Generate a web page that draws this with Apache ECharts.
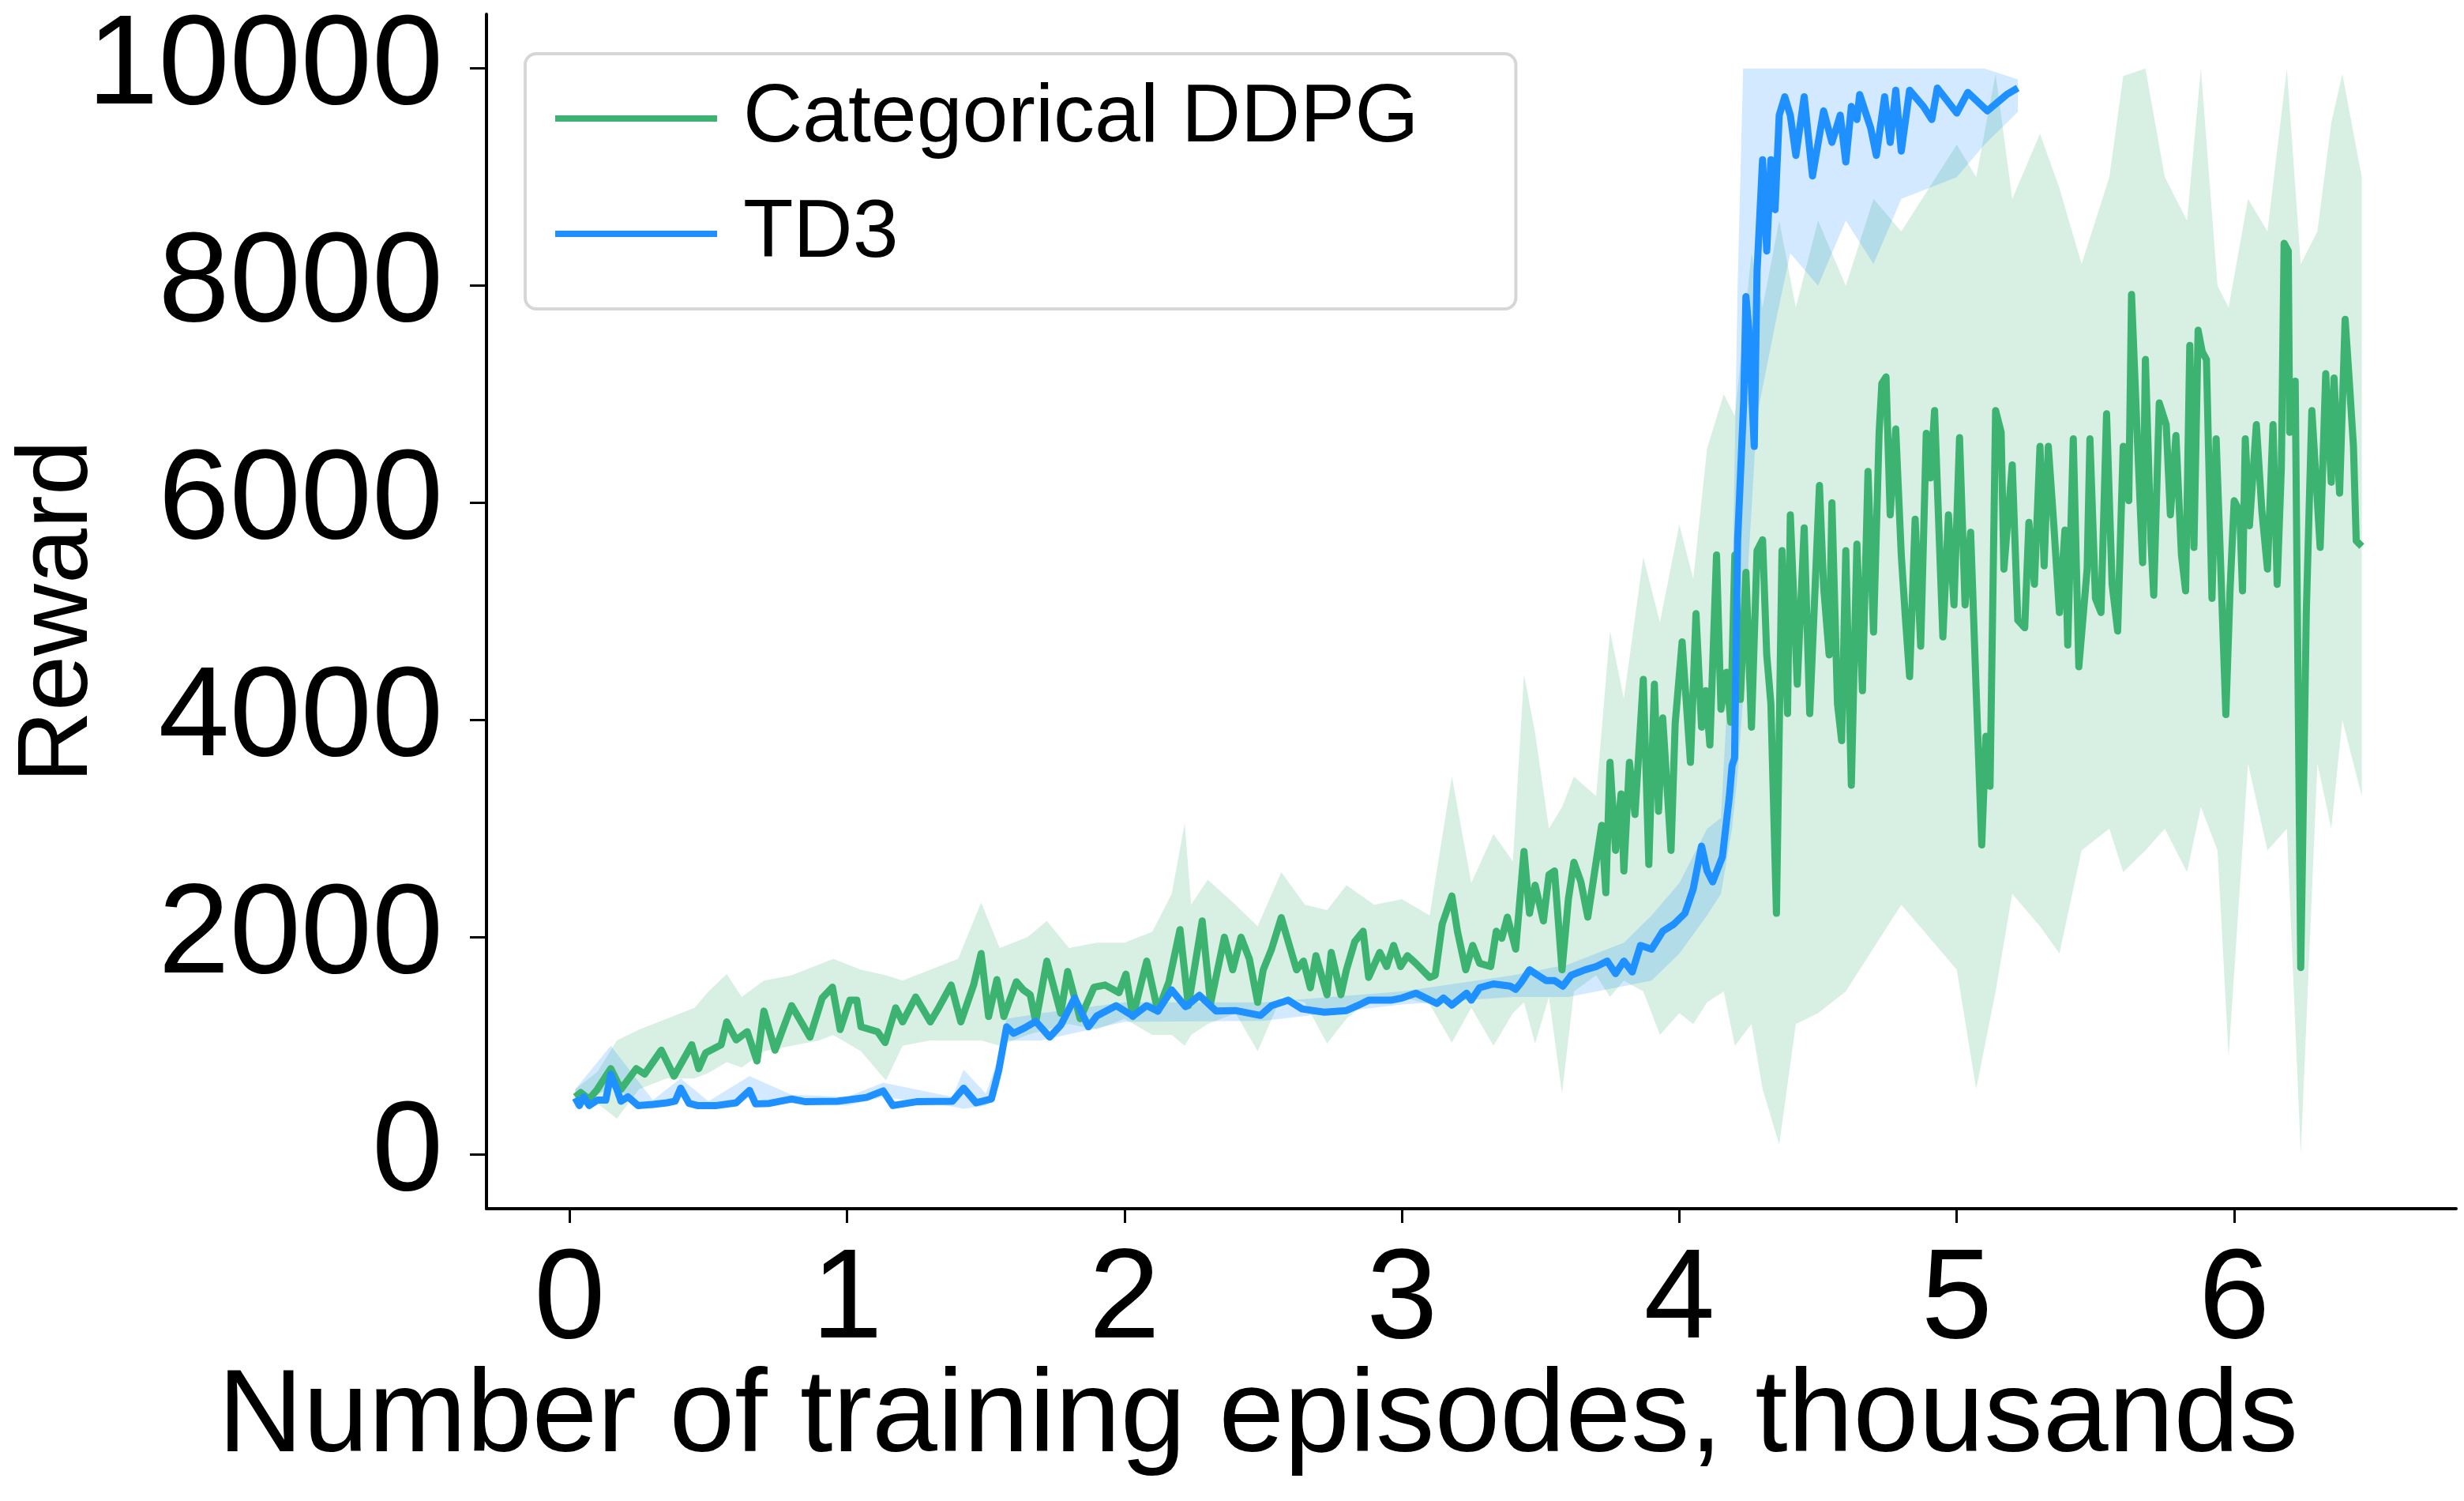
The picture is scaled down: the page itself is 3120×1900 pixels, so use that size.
<!DOCTYPE html>
<html>
<head>
<meta charset="utf-8">
<script src="https://cdn.jsdelivr.net/npm/echarts@6/dist/echarts.min.js"></script>
<style>
  html, body { margin: 0; padding: 0; background: #fff; }
  #chart { width: 3120px; height: 1900px; }
</style>
</head>
<body>
<div id="chart"></div>
<script>
// tick values
var xTicks = [0, 1, 2, 3, 4, 5, 6];
var yTicks = [0, 2000, 4000, 6000, 8000, 10000];

// Categorical DDPG mean reward: [episodes (thousands), reward]
var ddpgMean = [
  [0.02,530],[0.04,570],[0.07,510],[0.1,600],[0.148,790],[0.185,600],[0.24,790],[0.27,740],
  [0.33,960],[0.376,720],[0.44,1010],[0.465,790],[0.49,935],[0.546,1010],[0.566,1220],[0.6,1055],
  [0.64,1130],[0.675,860],[0.70,1320],[0.74,960],[0.80,1370],[0.866,1080],[0.91,1440],[0.947,1540],
  [0.975,1150],[1.01,1420],[1.035,1420],[1.05,1175],[1.11,1130],[1.137,1030],[1.175,1350],[1.2,1220],
  [1.247,1450],[1.30,1220],[1.33,1350],[1.375,1560],[1.41,1220],[1.456,1560],[1.483,1850],[1.51,1270],
  [1.54,1610],[1.565,1270],[1.61,1590],[1.635,1515],[1.66,1470],[1.68,1220],[1.72,1780],[1.77,1300],
  [1.795,1685],[1.84,1250],[1.89,1540],[1.93,1560],[1.98,1490],[2.005,1660],[2.03,1270],[2.08,1780],
  [2.12,1320],[2.16,1590],[2.20,2070],[2.23,1370],[2.28,2150],[2.31,1390],[2.36,2000],[2.39,1700],
  [2.42,2000],[2.45,1800],[2.48,1400],[2.50,1700],[2.53,1890],[2.565,2180],[2.59,1960],[2.62,1700],
  [2.645,1780],[2.67,1535],[2.69,1830],[2.73,1470],[2.745,1860],[2.78,1470],[2.8,1700],[2.83,1960],
  [2.86,2055],[2.88,1630],[2.92,1860],[2.945,1730],[2.97,1925],[2.995,1730],[3.02,1830],[3.05,1760],
  [3.10,1630],[3.12,1650],[3.145,2120],[3.18,2380],[3.20,2055],[3.23,1700],[3.255,1925],[3.28,1760],
  [3.32,1730],[3.34,2055],[3.36,1990],[3.38,2185],[3.41,1890],[3.44,2790],[3.46,2220],[3.48,2480],
  [3.51,2150],[3.53,2575],[3.55,2610],[3.577,1700],[3.60,2350],[3.62,2690],[3.645,2510],[3.67,2185],
  [3.695,2610],[3.72,3030],[3.735,2410],[3.75,3610],[3.77,2800],[3.79,3320],[3.80,2610],[3.82,3610],
  [3.84,3130],[3.87,4375],[3.89,2670],[3.91,4330],[3.925,3160],[3.94,4020],[3.97,2800],[3.985,3970],
  [4.01,4720],[4.04,3610],[4.06,4980],[4.08,3935],[4.095,4270],[4.11,3770],[4.134,5520],[4.15,4100],
  [4.17,4440],[4.185,3980],[4.20,5520],[4.22,4190],[4.24,5360],[4.26,3935],[4.28,5560],[4.30,5660],
  [4.315,4600],[4.33,4150],[4.35,2220],[4.37,5560],[4.39,4060],[4.40,5890],[4.425,4330],[4.45,5770],
  [4.47,4060],[4.505,6160],[4.52,5230],[4.54,4600],[4.55,6000],[4.57,4150],[4.585,3810],[4.60,5560],
  [4.62,3400],[4.64,5620],[4.66,4270],[4.68,6290],[4.70,4810],[4.72,6640],[4.73,7100],[4.745,7160],
  [4.76,5890],[4.78,6680],[4.80,5520],[4.815,4935],[4.83,4400],[4.85,5850],[4.87,4680],[4.89,6640],
  [4.905,6230],[4.92,6850],[4.95,4765],[4.97,5890],[4.99,5060],[5.01,6600],[5.03,5060],[5.05,5730],
  [5.07,4270],[5.09,2850],[5.105,3850],[5.12,3390],[5.14,6850],[5.16,6650],[5.17,5390],[5.20,6350],
  [5.22,4920],[5.245,4850],[5.26,5820],[5.28,5250],[5.30,6520],[5.315,5420],[5.33,6520],[5.35,5790],
  [5.37,4990],[5.39,5750],[5.40,4690],[5.42,6590],[5.44,4490],[5.47,5390],[5.48,6590],[5.50,5120],
  [5.52,4990],[5.54,6820],[5.56,5250],[5.58,4820],[5.60,6520],[5.62,6020],[5.63,7920],[5.65,6650],
  [5.67,5450],[5.68,7320],[5.70,5650],[5.71,5150],[5.73,6920],[5.755,6720],[5.77,5890],[5.79,6620],
  [5.81,5520],[5.825,5190],[5.84,7450],[5.855,5590],[5.87,7590],[5.885,7390],[5.90,7320],[5.92,5120],
  [5.935,6590],[5.95,5520],[5.97,4050],[5.985,5190],[6.00,6020],[6.02,5920],[6.03,5190],[6.04,6590],
  [6.055,5790],[6.08,6720],[6.10,5920],[6.12,5390],[6.14,6720],[6.155,5250],[6.17,6320],[6.18,8390],
  [6.195,8320],[6.20,6650],[6.22,7120],[6.24,1720],[6.26,4990],[6.28,6850],[6.31,5590],[6.33,7190],
  [6.35,6190],[6.36,7150],[6.38,6090],[6.40,7690],[6.415,7120],[6.43,6520],[6.44,5650],[6.46,5600]
];

// Categorical DDPG spread (shaded band)
var ddpgBandX = [0.02,0.1,0.17,0.25,0.35,0.45,0.5,0.566,0.62,0.7,0.8,0.9,0.95,1.05,1.14,1.2,1.3,1.4,
  1.483,1.55,1.65,1.72,1.8,1.9,2.0,2.1,2.17,2.217,2.24,2.3,2.4,2.48,2.565,2.65,2.73,2.8,2.9,3.0,3.1,
  3.18,3.25,3.33,3.4,3.44,3.48,3.53,3.577,3.62,3.7,3.75,3.8,3.87,3.93,4.0,4.05,4.1,4.16,4.2,4.26,4.3,
  4.36,4.42,4.5,4.6,4.7,4.8,4.9,5.0,5.07,5.14,5.2,5.3,5.37,5.45,5.55,5.6,5.68,5.75,5.83,5.88,5.94,
  5.98,6.05,6.12,6.19,6.24,6.3,6.35,6.39,6.46];
var ddpgLow = [450,470,330,600,700,700,750,850,800,950,1000,1050,1100,950,680,1000,1050,1050,
  1050,1000,1100,1150,1200,1150,1250,1100,1100,1000,1100,1200,1300,950,1450,1400,1020,1250,1450,1450,1380,
  1030,1350,1000,1300,1400,1020,1450,560,1500,1650,1450,1600,1500,1100,1300,1200,1400,1500,1000,1200,600,
  90,1200,1300,1500,1900,2300,2000,1700,600,1500,2400,2100,1850,2800,3000,2600,2800,3000,2600,3200,2800,
  900,3600,2800,3000,0,3600,3000,4000,3300];
var ddpgHigh = [600,760,1050,1150,1250,1350,1500,1660,1450,1600,1650,1750,1800,1700,1650,1600,1700,1800,
  2320,1900,2000,2150,1900,1950,1950,2050,2400,3050,2300,2530,2300,2100,2600,2300,2250,2480,2300,2350,2200,
  3480,2500,2950,2700,4420,3880,3000,3200,3480,3300,4820,4200,5500,4900,5800,5300,6500,7000,6800,8300,7800,
  8600,7800,8600,8000,8800,8500,8900,9300,9000,9950,8800,9400,8900,8200,9000,9930,10000,9000,8600,10000,8000,
  7800,8800,8500,10000,8200,8500,9500,9950,9000];

// TD3 mean reward
var td3Mean = [
  [0.02,520],[0.035,450],[0.05,530],[0.07,450],[0.10,500],[0.13,500],[0.148,740],[0.17,600],
  [0.185,490],[0.21,530],[0.246,450],[0.30,460],[0.35,475],[0.38,490],[0.40,610],[0.43,470],
  [0.46,450],[0.53,450],[0.60,475],[0.648,590],[0.67,465],[0.72,470],[0.80,510],[0.85,485],
  [0.965,490],[1.07,525],[1.13,585],[1.165,450],[1.25,485],[1.38,490],[1.42,610],[1.465,475],
  [1.52,510],[1.547,780],[1.575,1175],[1.60,1115],[1.64,1165],[1.68,1225],[1.73,1080],[1.77,1190],
  [1.82,1440],[1.87,1175],[1.90,1275],[1.97,1370],[2.03,1275],[2.08,1370],[2.12,1320],[2.17,1515],
  [2.22,1360],[2.27,1465],[2.33,1320],[2.40,1325],[2.45,1300],[2.49,1280],[2.53,1370],[2.59,1420],
  [2.64,1340],[2.72,1310],[2.80,1325],[2.84,1370],[2.88,1420],[2.96,1420],[3.0,1440],[3.05,1485],
  [3.126,1390],[3.15,1440],[3.18,1375],[3.233,1485],[3.25,1420],[3.28,1535],[3.33,1570],[3.39,1550],
  [3.41,1520],[3.43,1585],[3.46,1700],[3.49,1650],[3.52,1600],[3.55,1600],[3.58,1550],[3.61,1650],
  [3.66,1700],[3.70,1730],[3.74,1780],[3.77,1665],[3.80,1780],[3.83,1680],[3.86,1925],[3.90,1890],
  [3.94,2055],[3.98,2120],[4.02,2220],[4.05,2445],[4.08,2840],[4.10,2610],[4.12,2510],[4.155,2740],
  [4.18,3290],[4.19,3580],[4.199,3650],[4.21,5650],[4.232,6940],[4.24,7900],[4.25,7610],[4.27,6520],
  [4.28,8130],[4.30,9160],[4.315,8320],[4.33,9160],[4.345,8700],[4.36,9570],[4.38,9740],[4.40,9570],
  [4.42,9200],[4.45,9740],[4.48,9010],[4.52,9610],[4.55,9320],[4.58,9570],[4.60,9140],[4.62,9650],
  [4.64,9530],[4.65,9760],[4.69,9450],[4.71,9200],[4.74,9740],[4.76,9320],[4.78,9800],[4.80,9240],
  [4.83,9800],[4.88,9650],[4.91,9530],[4.93,9820],[5.0,9590],[5.04,9780],[5.11,9610],[5.18,9760],
  [5.22,9820]
];

// TD3 spread (shaded band)
var td3BandX = [0.02,0.148,0.3,0.4,0.5,0.648,0.8,1.0,1.13,1.38,1.42,1.5,1.547,1.575,1.7,2.0,2.5,3.0,
  3.4,3.6,3.8,3.9,4.0,4.1,4.15,4.19,4.21,4.23,4.25,4.28,4.35,4.4,4.5,4.6,4.7,4.8,4.9,5.0,5.1,5.22];
var td3Low = [430,620,420,530,420,520,470,450,530,440,420,450,620,1050,1050,1220,1230,1380,
  1450,1450,1550,1600,1850,2200,2400,3000,3500,4200,5500,6800,7700,8300,8000,8600,8200,8800,8900,9000,9300,9600];
var td3High = [600,1000,500,700,490,720,550,530,660,530,780,560,900,1250,1300,1400,1400,1500,
  1650,1750,1950,2200,2500,3000,3100,5000,8000,10000,10000,10000,10000,10000,10000,10000,10000,10000,10000,10000,10000,9900];

var GREEN = '#3cb371';
var BLUE = '#1e90ff';
var FONT = 'Liberation Sans';

function bandSeries(name, xs, lo, hi, fill) {
  return {
    name: name,
    type: 'custom',
    silent: true,
    clip: true,
    data: [[xs[0], lo[0]]],
    renderItem: function (params, api) {
      var pts = [];
      for (var i = 0; i < xs.length; i++) pts.push(api.coord([xs[i], hi[i]]));
      for (var j = xs.length - 1; j >= 0; j--) pts.push(api.coord([xs[j], lo[j]]));
      return { type: 'polygon', shape: { points: pts }, style: { fill: fill } };
    }
  };
}

function lineSeries(name, data, color) {
  return {
    name: name,
    type: 'line',
    data: data,
    showSymbol: false,
    symbol: 'none',
    smooth: false,
    color: color,
    itemStyle: { color: color },
    lineStyle: { color: color, width: 9, join: 'round', cap: 'butt' }
  };
}

function plain(v) { return String(v); }

var chart = echarts.init(document.getElementById('chart'));
chart.setOption({
  animation: false,
  backgroundColor: '#fff',
  textStyle: { fontFamily: FONT, color: '#000' },
  grid: { left: 616, right: 10, top: 18, bottom: 370, containLabel: false, outerBoundsMode: 'none' },
  legend: {
    data: ['Categorical DDPG', 'TD3'],
    orient: 'vertical',
    left: 665,
    top: 68,
    icon: 'rect',
    itemWidth: 205,
    itemHeight: 8,
    itemGap: 42,
    padding: [30, 123, 43, 38],
    backgroundColor: '#fff',
    borderColor: '#d6d6d6',
    borderWidth: 4,
    borderRadius: 14,
    textStyle: { fontFamily: FONT, fontSize: 104, color: '#000', padding: [0, 0, 0, 28] }
  },
  xAxis: {
    type: 'value',
    min: -0.3,
    max: 6.8,
    name: 'Number of training episodes, thousands',
    nameLocation: 'middle',
    nameMoveOverlap: false,
    nameGap: 191,
    nameTextStyle: { fontFamily: FONT, fontSize: 149, color: '#000', padding: [0, 540, 0, 0] },
    splitLine: { show: false },
    axisLine: { show: true, onZero: false, lineStyle: { color: '#000', width: 4 } },
    axisTick: { show: true, customValues: xTicks, length: 18, lineStyle: { color: '#000', width: 3 } },
    axisLabel: { customValues: xTicks, formatter: plain, fontFamily: FONT, fontSize: 162, color: '#000', margin: 37 }
  },
  yAxis: {
    type: 'value',
    min: -500,
    max: 10500,
    name: 'Reward',
    nameLocation: 'middle',
    nameMoveOverlap: false,
    nameGap: 478,
    nameTextStyle: { fontFamily: FONT, fontSize: 126, color: '#000' },
    splitLine: { show: false },
    axisLine: { show: true, onZero: false, lineStyle: { color: '#000', width: 4 } },
    axisTick: { show: true, customValues: yTicks, length: 21, lineStyle: { color: '#000', width: 3 } },
    axisLabel: { customValues: yTicks, formatter: plain, fontFamily: FONT, fontSize: 162, color: '#000', margin: 55 }
  },
  series: [
    bandSeries('ddpgBand', ddpgBandX, ddpgLow, ddpgHigh, 'rgba(60,179,113,0.2)'),
    bandSeries('td3Band', td3BandX, td3Low, td3High, 'rgba(30,144,255,0.2)'),
    lineSeries('Categorical DDPG', ddpgMean, GREEN),
    lineSeries('TD3', td3Mean, BLUE)
  ]
});
</script>
</body>
</html>
